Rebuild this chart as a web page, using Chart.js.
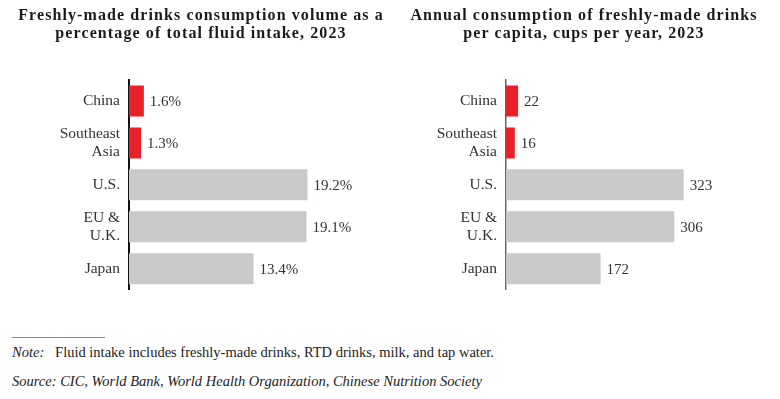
<!DOCTYPE html>
<html>
<head>
<meta charset="utf-8">
<script src="https://cdn.jsdelivr.net/npm/chart.js@4/dist/chart.umd.min.js"></script>
<style>
  body { margin: 0; background: #fff; font-family: "Liberation Serif", serif; color: #222; }
  #wrap { position: relative; width: 780px; height: 399px; }
  .title { position: absolute; top: 6px; width: 390px; text-align: center; font-weight: bold;
           font-size: 16px; line-height: 18px; letter-spacing: 1.1px; color: #1a1a1a; }
  .box { position: absolute; top: 0; width: 390px; height: 308px; }
  #rule { position: absolute; left: 12px; top: 337px; width: 93px; height: 1px; background: #888; }
  .foot { position: absolute; left: 12px; font-size: 14.5px; color: #222; }
</style>
</head>
<body>
<div id="wrap">
  <div class="box" style="left:0"><canvas id="chartLeft"></canvas></div>
  <div class="box" style="left:390px"><canvas id="chartRight"></canvas></div>
  <div class="title" style="left:6px">Freshly-made drinks consumption volume as a<br>percentage of total fluid intake, 2023</div>
  <div class="title" style="left:389px">Annual consumption of freshly-made drinks<br>per capita, cups per year, 2023</div>
  <div id="rule"></div>
  <div class="foot" style="top:344px"><i>Note:</i>&nbsp;&nbsp;&nbsp;Fluid intake includes freshly-made drinks, RTD drinks, milk, and tap water.</div>
  <div class="foot" style="top:373px"><i>Source: CIC, World Bank, World Health Organization, Chinese Nutrition Society</i></div>
</div>
<script>
// categories
const regions = ['China', ['Southeast', 'Asia'], 'U.S.', ['EU &', 'U.K.'], 'Japan'];

// share of total fluid intake, %
const shareOfIntake = [1.6, 1.3, 19.2, 19.1, 13.4];

// cups per capita per year
const cupsPerCapita = [22, 16, 323, 306, 172];

const RED = '#e8202a';
const GREY = '#c8c9cb';
const barColors = [RED, RED, GREY, GREY, GREY];

// draws the value next to each bar end
const valueLabels = {
  id: 'valueLabels',
  afterDatasetsDraw(chart) {
    const ctx = chart.ctx;
    const suffix = chart.options.plugins.valueLabels.suffix;
    const meta = chart.getDatasetMeta(0);
    ctx.save();
    ctx.font = '15px "Liberation Serif", serif';
    ctx.fillStyle = '#333';
    ctx.textAlign = 'left';
    ctx.textBaseline = 'middle';
    meta.data.forEach((bar, i) => {
      const v = chart.data.datasets[0].data[i];
      ctx.fillText(v.toFixed(suffix ? 1 : 0) + suffix, bar.x + 6, bar.y + 1);
    });
    ctx.restore();
  }
};

function makeChart(id, values, maxX, axisWidth, rightPad, suffix, axisColor, axisLine) {
  return new Chart(document.getElementById(id), {
    type: 'bar',
    data: {
      labels: regions,
      datasets: [{
        data: values,
        backgroundColor: barColors,
        borderWidth: 0,
        categoryPercentage: 1,
        barPercentage: 0.74
      }]
    },
    options: {
      indexAxis: 'y',
      responsive: true,
      maintainAspectRatio: false,
      animation: false,
      // bottom space comes from the y scale's own label padding (~18px)
      layout: { padding: { top: 80, bottom: 0, left: 0, right: rightPad } },
      plugins: {
        legend: { display: false },
        tooltip: { enabled: false },
        valueLabels: { suffix: suffix }
      },
      scales: {
        x: { display: false, min: 0, max: maxX },
        y: {
          grid: { display: false, drawTicks: false },
          border: { display: true, color: axisColor, width: axisLine },
          ticks: {
            color: '#333',
            padding: 9,
            font: { family: '"Liberation Serif", serif', size: 15.5, lineHeight: 1.2 }
          },
          afterFit(scale) { scale.width = axisWidth; }
        }
      }
    },
    plugins: [valueLabels]
  });
}

makeChart('chartLeft', shareOfIntake, 24, 129, 38, '%', '#111', 2);
makeChart('chartRight', cupsPerCapita, 400, 116, 54, '', '#666', 1.5);
</script>
</body>
</html>
